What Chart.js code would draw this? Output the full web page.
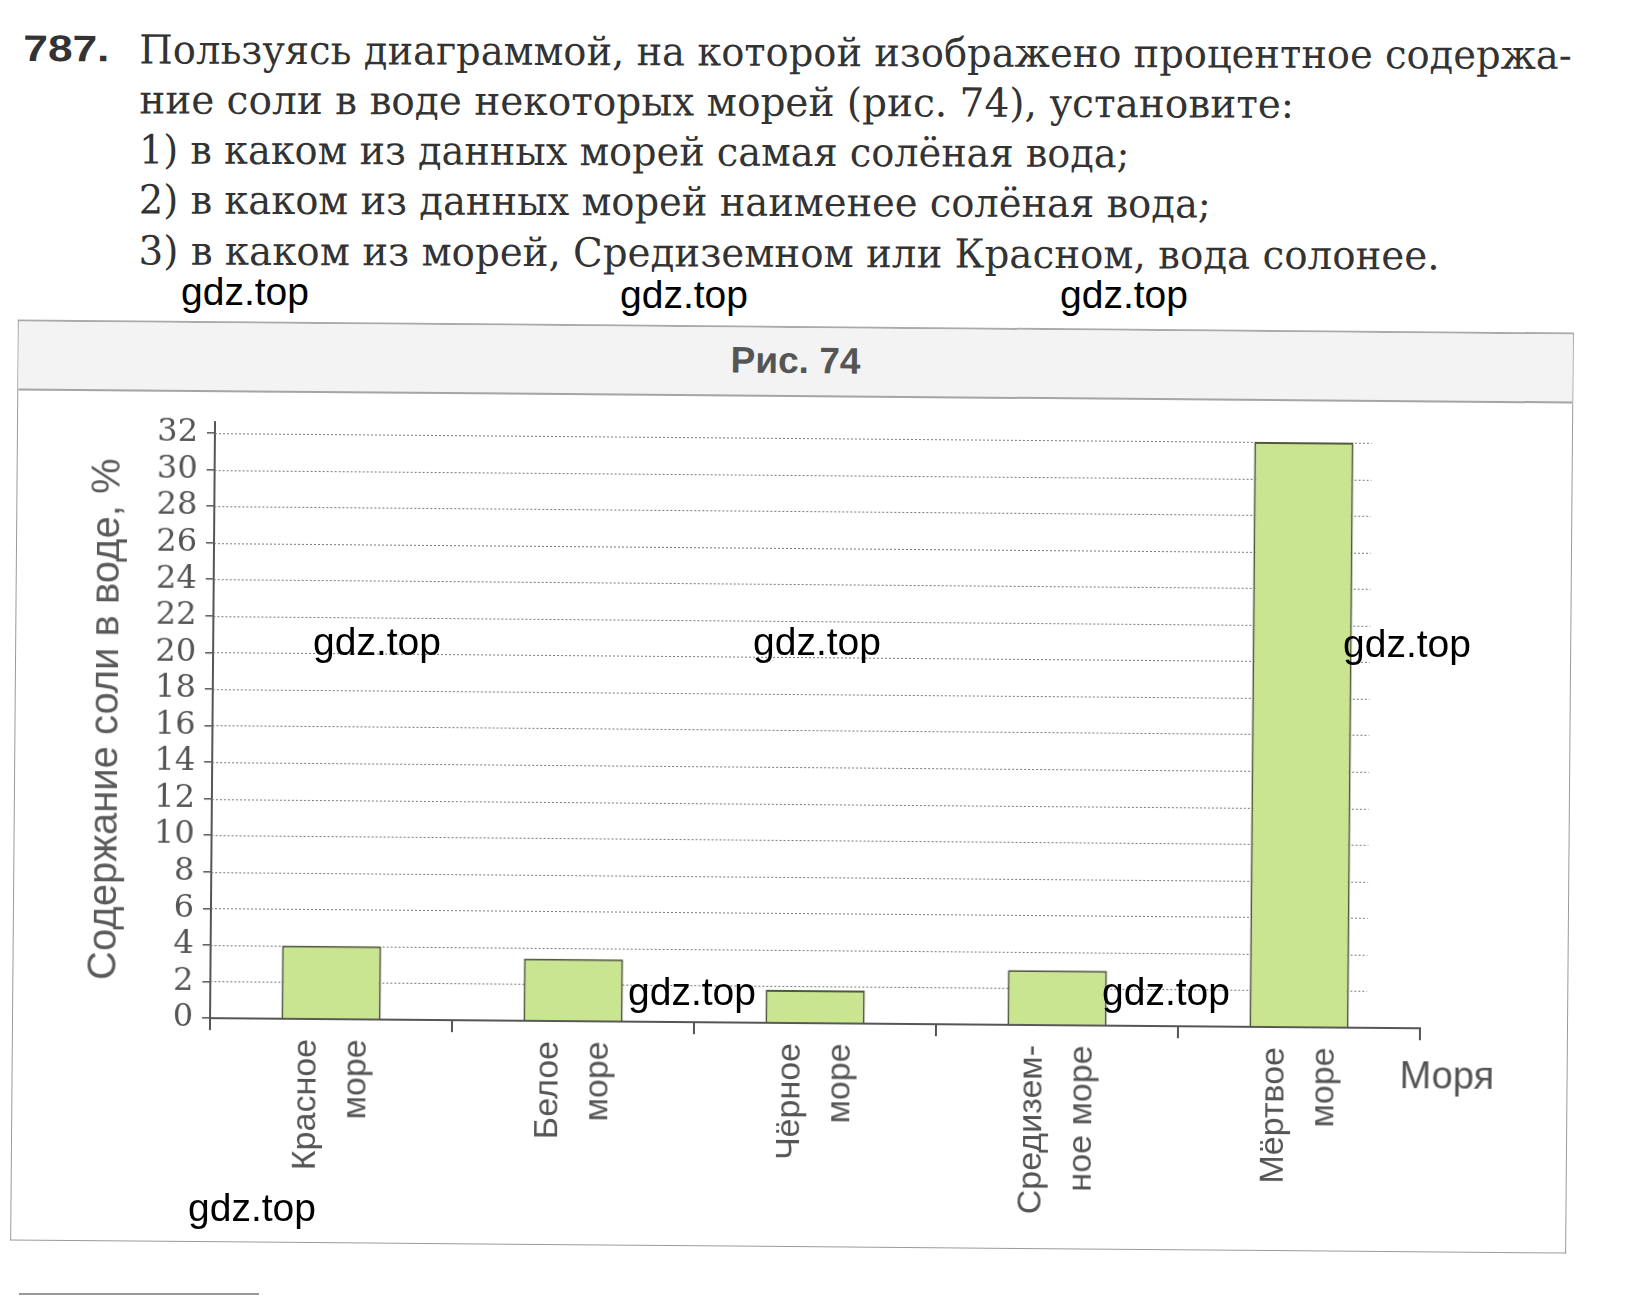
<!DOCTYPE html>
<html lang="ru">
<head>
<meta charset="UTF-8">
<title>Рис. 74</title>
<script src="https://cdn.jsdelivr.net/npm/chart.js@4.4.1/dist/chart.umd.min.js"></script>
<style>
    html, body {
        margin: 0;
        padding: 0;
        background: #fff;
    }
    body {
        position: relative;
        width: 1637px;
        height: 1297px;
        overflow: hidden;
        font-family: 'Liberation Sans', Arial, sans-serif;
    }
    #task {
        position: absolute;
        left: 0;
        top: 0;
        width: 1637px;
        height: 300px;
        color: #333;
        transform: rotate(0.22deg);
        transform-origin: 800px 160px;
    }
    #task .line {
        position: absolute;
        left: 139px;
        white-space: nowrap;
        font-family: 'DejaVu Serif', serif;
        font-size: 40px;
        line-height: 40px;
        transform-origin: 0 50%;
    }
    #task .num {
        position: absolute;
        left: 23px;
        white-space: nowrap;
        font: bold 37px 'Liberation Sans', Arial, sans-serif;
        line-height: 37px;
        transform-origin: 0 50%;
    }
    #frame {
        position: absolute;
        left: 14px;
        top: 326px;
        width: 1556px;
        height: 921px;
        box-sizing: border-box;
        border: 1px solid #9a9a9a;
        border-top: 2px solid #aaa;
        transform: rotate(0.48deg);
        transform-origin: 50% 50%;
    }
    #band {
        position: absolute;
        left: 0;
        top: 0;
        width: 100%;
        height: 67px;
        background: #f3f3f3;
        border-bottom: 2px solid #a5a5a5;
        text-align: center;
        font: bold 37px 'Liberation Sans', Arial, sans-serif;
        line-height: 66px;
        color: #555;
    }
    #chart {
        position: absolute;
        left: 0;
        top: 68px;
    }
    .wm {
        position: absolute;
        white-space: nowrap;
        font: 39px 'Liberation Sans', Arial, sans-serif;
        line-height: 39px;
        color: #000;
        z-index: 5;
    }
    #rule {
        position: absolute;
        left: 19px;
        top: 1293px;
        width: 240px;
        height: 2px;
        background: #999;
    }
</style>
</head>
<body>

<div id="task">
    <div class="num" id="n0" style="top:33px">787.</div>
    <div class="line" id="l1" style="top:32px">Пользуясь диаграммой, на которой изображено процентное содержа-</div>
    <div class="line" id="l2" style="top:82px">ние соли в воде некоторых морей (рис. 74), установите:</div>
    <div class="line" id="l3" style="top:132px">1) в каком из данных морей самая солёная вода;</div>
    <div class="line" id="l4" style="top:182px">2) в каком из данных морей наименее солёная вода;</div>
    <div class="line" id="l5" style="top:233px">3) в каком из морей, Средиземном или Красном, вода солонее.</div>
</div>

<div id="frame">
    <div id="band">Рис. 74</div>
    <canvas id="chart" width="1552" height="851"></canvas>
</div>

<div id="rule"></div>

<div class="wm" style="left:181px; top:272px">gdz.top</div>
<div class="wm" style="left:620px; top:275px">gdz.top</div>
<div class="wm" style="left:1060px; top:275px">gdz.top</div>
<div class="wm" style="left:313px; top:622px">gdz.top</div>
<div class="wm" style="left:753px; top:622px">gdz.top</div>
<div class="wm" style="left:1343px; top:624px">gdz.top</div>
<div class="wm" style="left:628px; top:972px">gdz.top</div>
<div class="wm" style="left:1102px; top:972px">gdz.top</div>
<div class="wm" style="left:188px; top:1188px">gdz.top</div>

<script>
// Data
const seas = [
    ['Красное', 'море'],
    ['Белое', 'море'],
    ['Чёрное', 'море'],
    ['Средизем-', 'ное море'],
    ['Мёртвое', 'море']
];
const saltPercent = [4, 3.4, 1.8, 3, 32];

const yTitle = 'Содержание соли в воде, %';
const xName = 'Моря';
const yStep = 2;
const yTop = 32.6; // axis runs a little past the last tick (32)

// Stretch the task text lines to the widths they have in the book
const lineWidths = { n0: 86, l1: 1432, l2: 1155, l3: 990, l4: 1072, l5: 1301 };
Object.keys(lineWidths).forEach(id => {
    const el = document.getElementById(id);
    el.style.transform = `scaleX(${lineWidths[id] / el.offsetWidth})`;
});

// dotted grid that stops just past the last bar, plus the "Моря" label
const bookGrid = {
    id: 'bookGrid',
    beforeDatasetsDraw(chart) {
        const { ctx, chartArea, scales } = chart;
        const bars = chart.getDatasetMeta(0).data;
        const last = bars[bars.length - 1];
        const right = last.x + last.width / 2 + 18;
        ctx.save();
        ctx.strokeStyle = '#7a7a7a';
        ctx.lineWidth = 1;
        ctx.setLineDash([2, 2]);
        scales.y.ticks.forEach(t => {
            if (t.value === 0) return;
            const py = Math.round(scales.y.getPixelForValue(t.value)) + 0.5;
            ctx.beginPath();
            ctx.moveTo(chartArea.left, py);
            ctx.lineTo(right, py);
            ctx.stroke();
        });
        ctx.restore();
    },
    afterDraw(chart) {
        const { ctx, chartArea } = chart;
        ctx.save();
        ctx.font = '38px "Liberation Sans", Arial, sans-serif';
        ctx.fillStyle = '#555';
        ctx.textBaseline = 'alphabetic';
        ctx.fillText(xName, chartArea.right - 20, chartArea.bottom + 60);
        ctx.restore();
    }
};

const ctx = document.getElementById('chart').getContext('2d');
new Chart(ctx, {
    type: 'bar',
    data: {
        labels: seas,
        datasets: [{
            data: saltPercent,
            backgroundColor: '#c9e590',
            borderColor: '#4f5a3a',
            borderWidth: 2,
            barPercentage: 0.41,
            categoryPercentage: 1
        }]
    },
    options: {
        responsive: false,
        animation: false,
        layout: {
            padding: { left: 0, top: 31, right: 145, bottom: 0 }
        },
        plugins: {
            legend: { display: false },
            tooltip: { enabled: false }
        },
        scales: {
            x: {
                afterFit: scale => { scale.height = 224; },
                grid: {
                    offset: true,
                    drawOnChartArea: false,
                    drawTicks: true,
                    tickLength: 12,
                    color: '#555',
                    lineWidth: 2
                },
                border: { display: true, color: '#555', width: 2 },
                ticks: {
                    autoSkip: false,
                    minRotation: 90,
                    maxRotation: 90,
                    padding: 8,
                    labelOffset: -24,
                    color: '#555',
                    font: { family: "'Liberation Sans', Arial, sans-serif", size: 34, lineHeight: 1.47 }
                }
            },
            y: {
                min: 0,
                max: yTop,
                afterFit: scale => { scale.width = 197; },
                grid: {
                    drawOnChartArea: false,
                    drawTicks: true,
                    tickLength: 8,
                    color: '#555',
                    lineWidth: 1.5
                },
                border: { display: true, color: '#555', width: 2 },
                ticks: {
                    stepSize: yStep,
                    autoSkip: false,
                    includeBounds: false,
                    padding: 9,
                    color: '#555',
                    font: { family: "'DejaVu Serif', serif", size: 32, lineHeight: 1 }
                },
                title: {
                    display: true,
                    text: yTitle,
                    color: '#5a5a5a',
                    padding: { top: 67, bottom: 0 },
                    font: { family: "'Liberation Sans', Arial, sans-serif", size: 40 }
                }
            }
        }
    },
    plugins: [bookGrid]
});
</script>
</body>
</html>
